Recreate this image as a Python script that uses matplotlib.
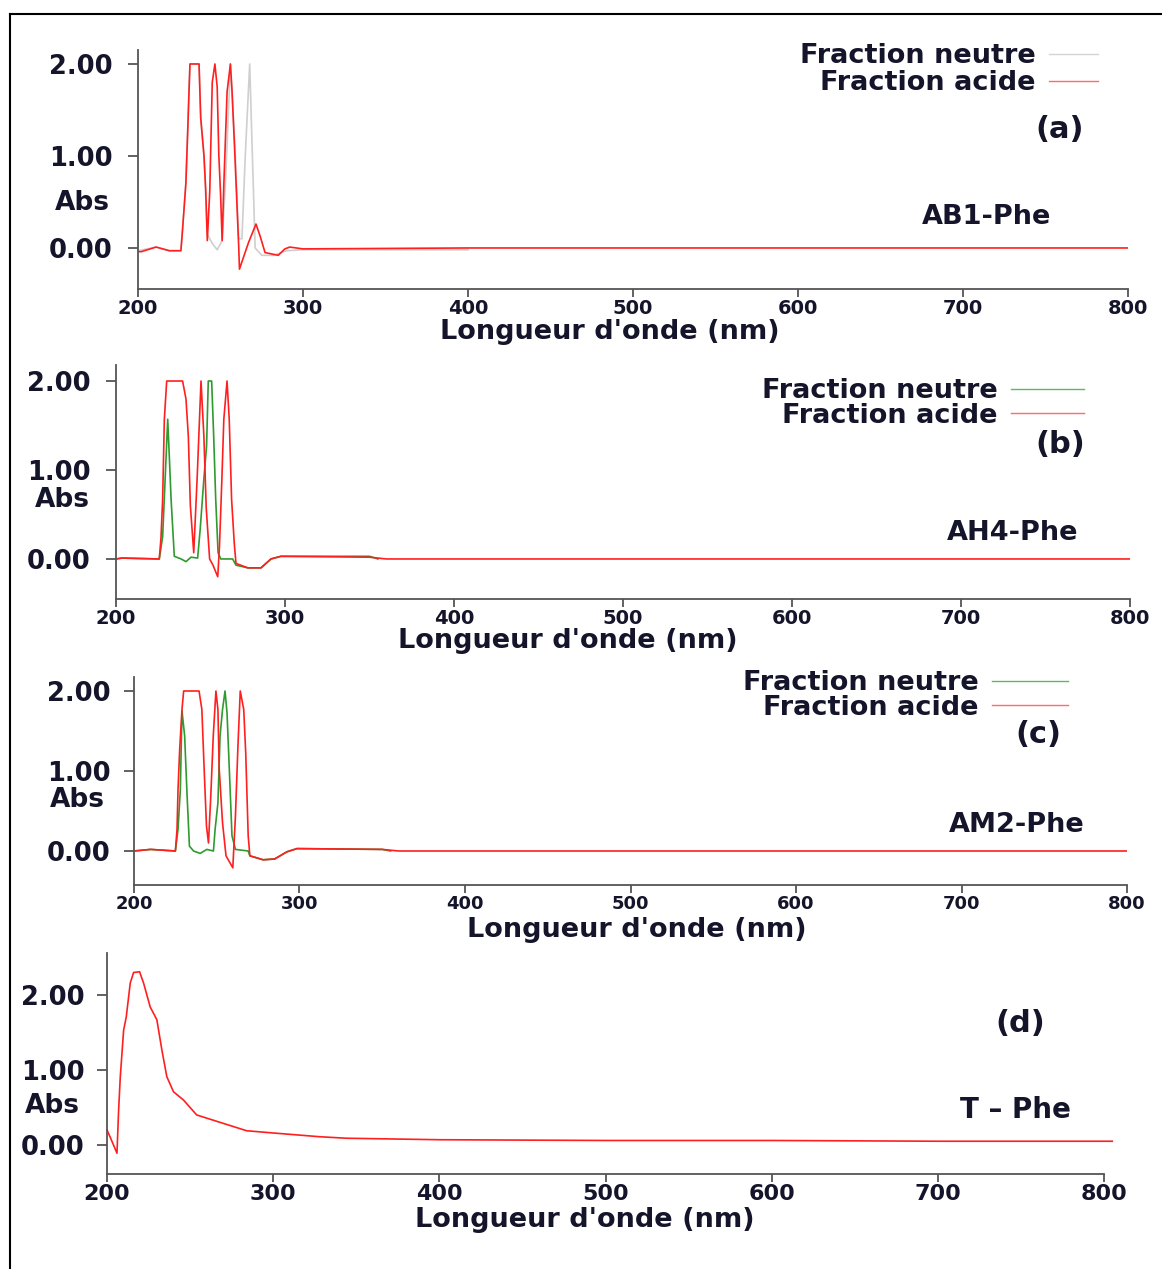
import numpy as np
import matplotlib
matplotlib.use("Agg")
import matplotlib.pyplot as plt
from matplotlib.lines import Line2D

plt.rcParams['font.family'] = ['DejaVu Sans']
plt.rcParams['font.weight'] = 'bold'

# ---- data (wavelength in nm, absorbance) ----
# (a) AB1-Phe
A_WL_NEUTRE = [200, 211, 219, 226, 227, 229, 231.5, 237, 238, 240, 242, 245, 248, 251, 253, 256,
               257, 259, 261, 263, 265, 267.7, 269, 271, 275, 282, 290, 300, 400]
A_ABS_NEUTRE = [-0.03, 0.01, -0.03, -0.03, 0.2, 0.7, 2.0, 2.0, 1.4, 1.0, 0.15, 0.05, -0.02, 0.08, 0.7, 2.0,
                1.7, 1.0, 0.1, 0.1, 1.0, 2.0, 1.2, 0.0, -0.08, -0.08, -0.03, -0.02, -0.02]
A_WL_ACIDE = [200, 202, 211, 219, 226, 227, 229, 230, 231, 231.5, 237, 238, 240, 241, 242, 243.5, 245,
              246.6, 248, 249, 250, 251, 252, 254, 256, 257, 258.5, 261, 261.5, 263, 267, 271.5, 274,
              277, 285, 289, 292, 300, 400, 800]
A_ABS_ACIDE = [-0.04, -0.04, 0.01, -0.03, -0.03, 0.2, 0.7, 1.2, 1.75, 2.0, 2.0, 1.42, 1.0, 0.65, 0.08,
               0.62, 1.8, 2.0, 1.75, 1.0, 0.6, 0.08, 0.68, 1.7, 2.0, 1.7, 1.1, 0.03, -0.23, -0.15, 0.06,
               0.26, 0.13, -0.05, -0.08, -0.01, 0.01, -0.01, 0.0, 0.0]

# (b) AH4-Phe
B_WL_NEUTRE = [200, 203.5, 225.6, 227.6, 230.6, 231.6, 232.6, 234.5, 238.5, 241.4, 244.4, 248.3, 249.8,
               252, 253.6, 254.6, 256.6, 257.8, 259, 260.4, 262, 269, 271, 278, 285.8, 291.7, 297.6, 350, 355]
B_ABS_NEUTRE = [0.0, 0.01, 0.0, 0.25, 1.57, 1.13, 0.67, 0.03, 0.0, -0.03, 0.02, 0.01, 0.33,
                0.9, 1.27, 2.0, 2.0, 1.38, 0.67, 0.07, 0.0, 0.0, -0.07, -0.1, -0.1, 0.0, 0.03, 0.03, 0.0]
B_WL_ACIDE = [200, 203.5, 225.6, 226.6, 227.6, 228.6, 230, 239.4, 241.4, 242.8, 244, 246, 248, 249.4,
              250.3, 252, 253.4, 255.4, 257.4, 260.2, 261.2, 262.6, 263.8, 265.7, 267, 268.4, 270, 271,
              278, 285.8, 291.7, 297.6, 350, 360, 800]
B_ABS_ACIDE = [0.0, 0.01, 0.0, 0.23, 0.67, 1.57, 2.0, 2.0, 1.8, 1.38, 0.6, 0.07, 0.9, 1.57,
               2.0, 1.38, 0.57, 0.0, -0.07, -0.2, 0.13, 0.87, 1.57, 2.0, 1.57, 0.67, 0.17, -0.05,
               -0.1, -0.1, 0.0, 0.03, 0.02, 0.0, 0.0]

# (c) AM2-Phe
C_WL_NEUTRE = [200, 210, 225, 226.6, 228, 229, 230.6, 232, 233.5, 236, 240, 244, 248, 249, 250.7, 252,
               253.5, 255, 256.2, 257.6, 259.2, 261.3, 269, 270, 278, 285, 292.4, 298.5, 350, 355]
C_ABS_NEUTRE = [0.0, 0.02, 0.0, 0.27, 0.77, 1.75, 1.44, 0.73, 0.06, 0.0, -0.03, 0.02, 0.0, 0.27, 0.6, 1.44,
                1.77, 2.0, 1.73, 1.02, 0.19, 0.02, 0.0, -0.06, -0.11, -0.1, -0.01, 0.03, 0.02, 0.0]
C_WL_ACIDE = [200, 210, 225, 226, 226.6, 227.6, 229, 230, 239.3, 241, 242.4, 243.8, 245, 246.4, 247.9,
              249.5, 250.7, 251.5, 253.5, 255.6, 259.7, 261.3, 262.8, 264.2, 266.3, 267.5, 269, 270,
              278, 285, 292.4, 298.5, 350, 360, 800]
C_ABS_ACIDE = [0.0, 0.02, 0.0, 0.27, 0.77, 1.27, 1.77, 2.0, 2.0, 1.77, 1.02, 0.31, 0.1, 0.69, 1.44,
               2.0, 1.77, 1.02, 0.35, -0.06, -0.21, 0.44, 1.31, 2.0, 1.77, 1.23, 0.19, -0.06,
               -0.11, -0.1, -0.01, 0.03, 0.02, 0.0, 0.0]

# (d) T - Phe
D_WL = [200, 202, 206, 207, 208, 210, 211.6, 214, 216, 219.6, 222, 226, 230, 233, 236, 240, 246, 254,
        264, 284, 300, 328, 344, 400, 500, 600, 700, 805]
D_ABS = [0.2, 0.1, -0.11, 0.47, 0.91, 1.53, 1.71, 2.16, 2.30, 2.31, 2.16, 1.84, 1.67, 1.27, 0.91, 0.71,
         0.6, 0.4, 0.33, 0.19, 0.16, 0.11, 0.09, 0.07, 0.06, 0.06, 0.05, 0.05]

X_TICKS = [200, 300, 400, 500, 600, 700, 800]
Y_TICKS = [0, 1, 2]

RED = '#ff1f1f'
GREEN = '#2f9a2f'
GRAY = '#cfcfcf'
TXT = '#14142a'
SPINE = '#555555'

W, H = 1162, 1269
fig = plt.figure(figsize=(W / 100, H / 100), dpi=100)


def box(l, t, r, b):
    return [l / W, 1 - b / H, (r - l) / W, (b - t) / H]


def ftext(x, y, s, size, **kw):
    fig.text(x / W, 1 - y / H, s, fontsize=size, color=TXT, ha='center', va='center',
             fontweight='bold', **kw)


def setup(ax, ylim, xsize, ypad):
    ax.set_xlim(200, 800)
    ax.set_ylim(*ylim)
    ax.set_xticks(X_TICKS)
    ax.set_yticks(Y_TICKS)
    ax.set_yticklabels(['%.2f' % v for v in Y_TICKS])
    for s in ['top', 'right']:
        ax.spines[s].set_visible(False)
    for s in ['left', 'bottom']:
        ax.spines[s].set_color(SPINE)
        ax.spines[s].set_linewidth(1.3)
    ax.tick_params(axis='x', length=6, width=1.3, color=SPINE, labelsize=xsize, pad=1,
                   labelcolor=TXT)
    ax.tick_params(axis='y', length=7, width=1.3, color=SPINE, labelsize=18.5, pad=ypad,
                   labelcolor=TXT)
    ax.patch.set_alpha(0)


def legend(ax, neutre_color, right, top, hlen, spacing):
    handles = [Line2D([], [], color=neutre_color, lw=1.0),
               Line2D([], [], color='#ff6a6a', lw=1.0)]
    ax.legend(handles, ['Fraction neutre', 'Fraction acide'], loc='upper right',
              bbox_to_anchor=(right / W, 1 - top / H), bbox_transform=fig.transFigure,
              markerfirst=False, frameon=False, borderpad=0, borderaxespad=0,
              handlelength=hlen, handletextpad=0.5, labelspacing=spacing,
              prop={'size': 19.5, 'weight': 'bold'}, labelcolor=TXT)


# (a)
ax = fig.add_axes(box(138, 50, 1128, 289))
setup(ax, (-0.446, 2.152), 14, 11)
ax.plot(A_WL_NEUTRE, A_ABS_NEUTRE, color=GRAY, lw=1.2)
ax.plot(A_WL_ACIDE, A_ABS_ACIDE, color=RED, lw=1.2)
legend(ax, '#d4d4d4', 1098, 43, 1.8, 0.05)
ftext(1060, 130, '(a)', 22)
ftext(987, 217, 'AB1-Phe', 19.5)
ftext(82, 203, 'Abs', 19)
ftext(610, 332, "Longueur d'onde (nm)", 19.5)

# (b)
ax = fig.add_axes(box(116, 365, 1130, 599))
setup(ax, (-0.45, 2.18), 14, 11)
ax.plot(B_WL_NEUTRE, B_ABS_NEUTRE, color=GREEN, lw=1.2)
ax.plot(B_WL_ACIDE, B_ABS_ACIDE, color=RED, lw=1.2)
legend(ax, '#5cb85c', 1084, 378, 2.7, -0.05)
ftext(1060, 445, '(b)', 22)
ftext(1013, 533, 'AH4-Phe', 19.5)
ftext(62, 500, 'Abs', 19)
ftext(568, 641, "Longueur d'onde (nm)", 19.5)

# (c)
ax = fig.add_axes(box(134, 677, 1127, 885))
setup(ax, (-0.425, 2.175), 13, 10)
ax.plot(C_WL_NEUTRE, C_ABS_NEUTRE, color=GREEN, lw=1.2)
ax.plot(C_WL_ACIDE, C_ABS_ACIDE, color=RED, lw=1.2)
legend(ax, '#5cb85c', 1068, 670, 2.8, -0.05)
ftext(1038, 735, '(c)', 22)
ftext(1017, 825, 'AM2-Phe', 19.5)
ftext(77, 800, 'Abs', 19)
ftext(637, 930, "Longueur d'onde (nm)", 19.5)

# (d)
ax = fig.add_axes(box(107, 953, 1104, 1174))
setup(ax, (-0.387, 2.56), 16, 9)
ax.plot(D_WL, D_ABS, color=RED, lw=1.2, clip_on=False)
ftext(1020, 1023, '(d)', 22)
ftext(1015, 1110, 'T \u2013 Phe', 20)
ftext(52, 1106, 'Abs', 19)
ftext(585, 1220, "Longueur d'onde (nm)", 19.5)

# outer frame (top and left edges visible)
fig.add_artist(Line2D([10 / W, 1], [1 - 14 / H, 1 - 14 / H], color='black', lw=1.5))
fig.add_artist(Line2D([10 / W, 10 / W], [0, 1 - 14 / H], color='black', lw=1.5))

fig.savefig('out.png', dpi=100)
